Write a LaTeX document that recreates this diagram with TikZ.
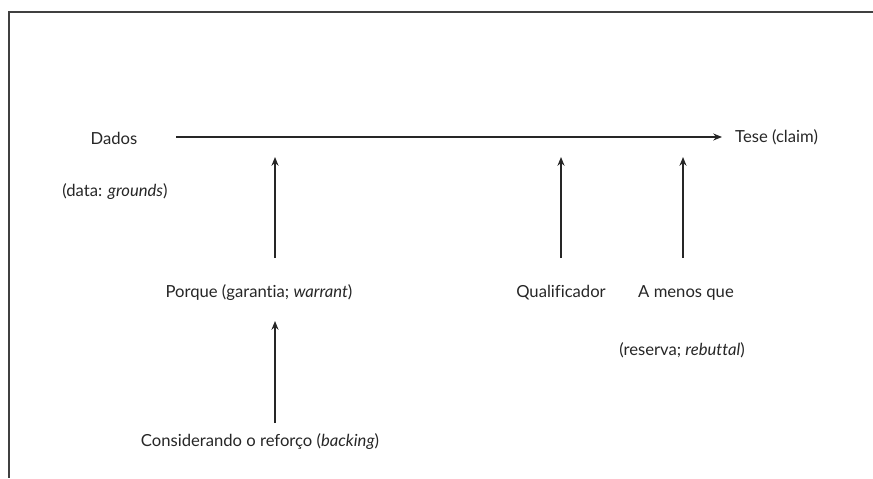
\documentclass[tikz,border=0pt]{standalone}
\usepackage{fontspec}
\setmainfont{Lato}[Ligatures=CommonOff]
\usetikzlibrary{arrows.meta}

\begin{document}
\begin{tikzpicture}[
                x=0.03cm,
                y=-0.03cm,
                line cap=butt,
                >={Stealth[length=7.5pt,width=6pt]},
                every node/.style={font=\fontsize{14.2}{17}\selectfont, inner sep=0pt, text=black!85},
                link/.style={->, line width=1.1pt, black!85}
            ]

            \useasboundingbox (0,0) rectangle (873,478);

            % frame (top and left only)
            \draw[line width=1pt, black!75] (873,12) -- (9,12) -- (9,478);

            % texts
            \node (dados) at (114,138) {Dados};
            \node (grounds) at (115,192) {(data: \textit{grounds})};
            \node[anchor=west] (tese) at (735,137) {Tese (claim)};
            \node (porque) at (259,293) {Porque (garantia; \textit{warrant})};
            \node (backing) at (260,442) {Considerando o reforço (\textit{backing})};
            \node (qualif) at (561,293) {Qualificador};
            \node (amenos) at (686,293) {A menos que};
            \node (rebuttal) at (682,350) {(reserva; \textit{rebuttal})};

            % arrow ends
            \coordinate (dstart) at (176,137);
            \coordinate (wtop) at (275,157);
            \coordinate (wbot) at (275,258);
            \coordinate (btop) at (275,321);
            \coordinate (bbot) at (275,423);
            \coordinate (qtop) at (561,157);
            \coordinate (qbot) at (561,258);
            \coordinate (rtop) at (683,157);
            \coordinate (rbot) at (683,258);

            \draw[link, shorten >=13*0.03cm] (dstart) -- (tese.west);

            \foreach \from/\to in {wbot/wtop, bbot/btop, qbot/qtop, rbot/rtop} {
                \draw[link] (\from) -- (\to);
            }

        \end{tikzpicture}
\end{document}
